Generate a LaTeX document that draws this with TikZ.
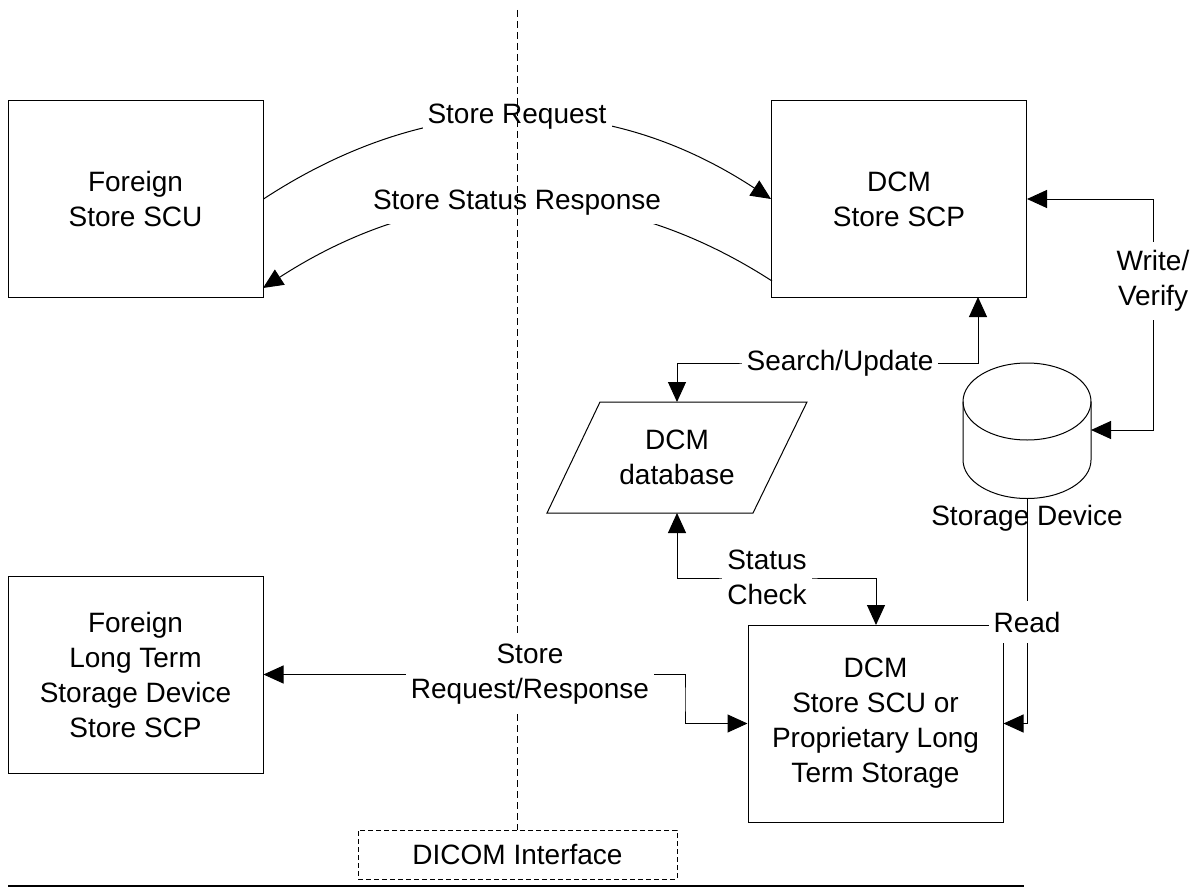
\documentclass[tikz,border=0pt]{standalone}
\usepackage{fontspec}
\setmainfont{Liberation Sans}
\usetikzlibrary{arrows.meta}
\newcommand\dfont{\fontsize{28}{35}\selectfont}
\begin{document}
\begin{tikzpicture}[x=1pt,y=-1pt,
  box/.style={draw, line width=1pt, minimum width=255, minimum height=197, align=center, inner sep=0pt, font=\dfont},
  lbl/.style={fill=white, align=center, inner xsep=5pt, inner ysep=8pt, font=\dfont},
  conn/.style={line width=1pt},
  arr/.style={-{Triangle[length=20pt,width=18pt]}},
  arrb/.style={{Triangle[length=20pt,width=18pt]}-{Triangle[length=20pt,width=18pt]}},
  dline/.style={line width=1pt, dash pattern=on 7pt off 4pt},
  dbox/.style={draw, line width=1pt, dash pattern=on 5pt off 3pt, minimum width=319, minimum height=49, font=\dfont}]
\useasboundingbox (0,0) rectangle (1199,888);

% boxes
\node[box] (fscu) at (135.5,199) {Foreign\\Store SCU};
\node[box] (scp) at (899,199) {DCM\\Store SCP};
\node[box] (fltsd) at (135.5,674.5) {Foreign\\Long Term\\Storage Device\\Store SCP};
\node[box] (scu) at (875.5,723.5) {DCM\\Store SCU or\\Proprietary Long\\Term Storage};
\node[dbox] (dicom) at (517.5,854.5) {DICOM Interface};

% database
\draw[conn] (600,402) -- (807,402) -- (753,513) -- (547,513) -- cycle;
\node[font=\dfont, align=center] (db) at (677,457.5) {DCM\\database};
\coordinate (dbtop) at (677,402);
\coordinate (dbbot) at (677,513);

% storage device (cylinder)
\draw[conn] (1027,401.5) ellipse[x radius=64, y radius=38.5];
\draw[conn] (963,401.5) -- (963,460) arc[start angle=180, end angle=0, x radius=64, y radius=38.5] -- (1091,401.5);
\coordinate (cylright) at (1091,430);
\coordinate (cylbot) at (1027,498.5);
\node[font=\dfont] (stdev) at (1027,518) {Storage Device};

% connectors
\draw[conn, arr] (fscu.east) .. controls (430,90) and (605,90) .. (scp.west);
\coordinate (ssrA) at (772,281);
\coordinate (ssrB) at (263,288);
\draw[conn, arr] (ssrA) .. controls (605,173) and (430,180) .. (ssrB);

\coordinate (scpb) at (978,297);
\coordinate (su) at (800,363);
\draw[conn, arrb] (dbtop) |- (su) -| (scpb);

\coordinate (sc) at (760,578);
\coordinate (scut) at (876,625);
\draw[conn, arrb] (dbbot) |- (sc) -| (scut);

\coordinate (wv) at (1153,300);
\draw[conn, arrb] (scp.east) -| (wv) |- (cylright);

\draw[conn, arr] (cylbot) |- (scu.east);

% labels
\node[lbl] (lsr) at (517,117) {Store Request};
\node[lbl] (lssr) at (517,203) {Store Status Response};
\node[lbl] (lsu) at (840,363) {Search/Update};
\node[lbl] (lsc) at (767,577) {Status\\Check};
\node[lbl] (lwv) at (1153,281) {Write/\\Verify};
\node[lbl, inner ysep=11pt] (lrd) at (1027,622) {Read};

% DICOM interface line
\coordinate (dtop) at (517.5,10);
\draw[dline] (dtop) -- (dicom.north);

% bottom connector
\coordinate (jog) at (685,700);
\draw[conn, arrb] (fltsd.east) -| (jog) |- (scu.west);
\node[lbl] (lsrr) at (530,674.5) {Store\\Request/Response};

% base line
\coordinate (bl1) at (8,886);
\coordinate (bl2) at (1024,886);
\draw[line width=2pt] (bl1) -- (bl2);
\end{tikzpicture}
\end{document}
